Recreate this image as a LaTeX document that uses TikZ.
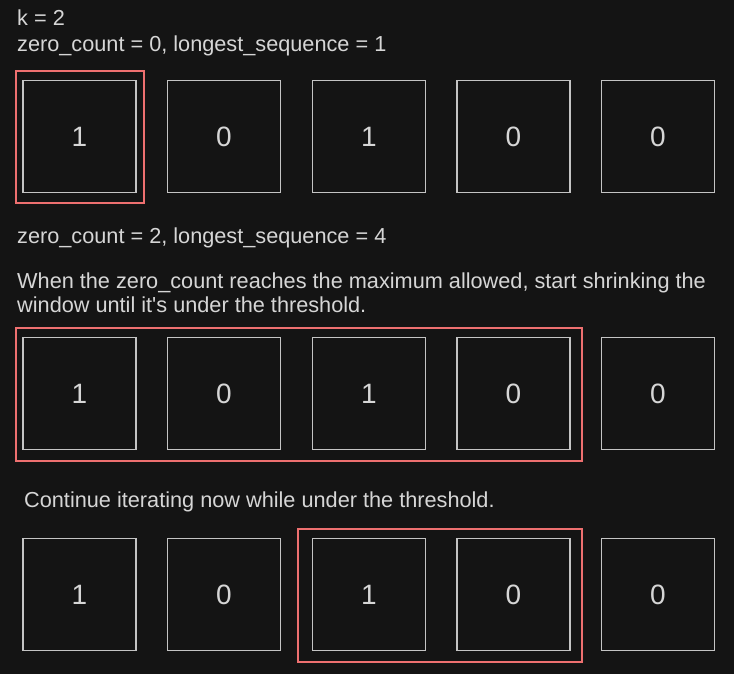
\documentclass[tikz,border=0pt]{standalone}
\usepackage{fontspec}
\setmainfont{Liberation Sans}
\usetikzlibrary{calc}
\definecolor{bg}{HTML}{141414}
\definecolor{fg}{HTML}{D6D6D6}
\definecolor{edge}{HTML}{C4C4C4}
\definecolor{win}{HTML}{EE7070}
\tikzset{
	cell/.style={draw=edge, line width=1.8pt, minimum width=113pt, minimum height=112pt, inner sep=0pt, text=fg, font=\fontsize{28}{28}\selectfont},
	caption/.style={anchor=base west, inner sep=0pt, text=fg, font=\fontsize{21.7}{24}\selectfont},
	window/.style={draw=win, line width=2pt}
}

\begin{document}
\begin{tikzpicture}[x=1pt, y=-1pt]
			%%%%% START %%%%%
			\fill[bg] (0, 0) rectangle (734, 674);
			\useasboundingbox (0, 0) rectangle (734, 674);
			
			\node[caption] (k) at (17, 26) {k = 2};
			\node[caption] (state1) at (17, 52) {zero\_count = 0, longest\_sequence = 1};
			
			\node[cell] (a1) at (79.5, 136.5) {1};
			\node[cell] (a2) at (224, 136.5) {0};
			\node[cell] (a3) at (369, 136.5) {1};
			\node[cell] (a4) at (513.5, 136.5) {0};
			\node[cell] (a5) at (658, 136.5) {0};
			\draw[window] (15.5, 71) rectangle (144, 203);
			
			\node[caption] (state2) at (17, 243.5) {zero\_count = 2, longest\_sequence = 4};
			\node[caption] (note1) at (17, 288) {When the zero\_count reaches the maximum allowed, start shrinking the};
			\node[caption] (note2) at (17, 312) {window until it\textquotesingle s under the threshold.};
			
			\node[cell] (b1) at (79.5, 393.5) {1};
			\node[cell] (b2) at (224, 393.5) {0};
			\node[cell] (b3) at (369, 393.5) {1};
			\node[cell] (b4) at (513.5, 393.5) {0};
			\node[cell] (b5) at (658, 393.5) {0};
			\draw[window] (15.5, 327.5) rectangle (581.5, 461);
			
			\node[caption] (note3) at (24, 507) {Continue iterating now while under the threshold.};
			
			\node[cell] (c1) at (79.5, 594.5) {1};
			\node[cell] (c2) at (224, 594.5) {0};
			\node[cell] (c3) at (369, 594.5) {1};
			\node[cell] (c4) at (513.5, 594.5) {0};
			\node[cell] (c5) at (658, 594.5) {0};
			\draw[window] (297.5, 528.5) rectangle (581.5, 662);
			%%%%% END %%%%%
		\end{tikzpicture}
\end{document}
